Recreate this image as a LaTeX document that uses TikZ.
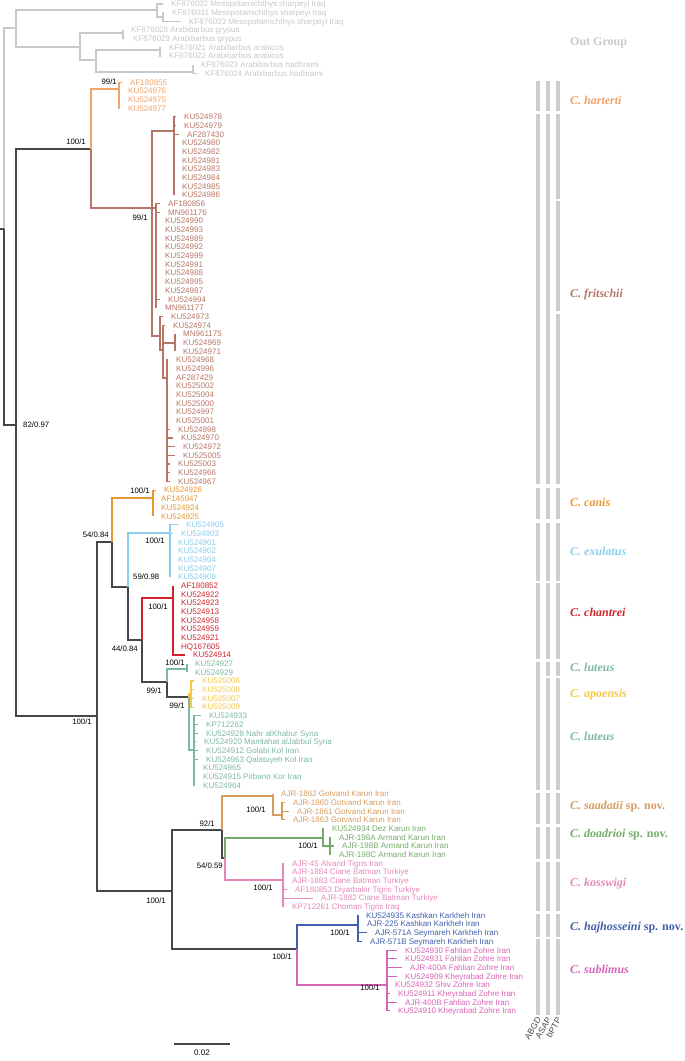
\documentclass[tikz,border=0pt]{standalone}
\usepackage{fontspec}
\setmainfont{Liberation Serif}
\setsansfont{Liberation Sans}
\usetikzlibrary{positioning}

\definecolor{dark}{RGB}{70,70,70}
\definecolor{ogc}{RGB}{200,200,200}
\definecolor{harc}{RGB}{240,162,105}
\definecolor{fric}{RGB}{182,118,102}
\definecolor{canc}{RGB}{232,150,50}
\definecolor{exuc}{RGB}{140,205,235}
\definecolor{chac}{RGB}{210,35,45}
\definecolor{lutc}{RGB}{125,185,160}
\definecolor{apoc}{RGB}{245,200,70}
\definecolor{saac}{RGB}{215,155,95}
\definecolor{doac}{RGB}{115,172,105}
\definecolor{kosc}{RGB}{230,135,185}
\definecolor{hajc}{RGB}{65,95,170}
\definecolor{subc}{RGB}{215,100,180}
\definecolor{bargray}{RGB}{205,205,205}

\tikzset{
  br/.style={line width=1.1pt},
  leaf/.style={anchor=west, inner xsep=8pt, inner ysep=0pt, text height=5.8pt, text depth=0pt,
    font=\sffamily\fontsize{8}{9}\selectfont},
  supp/.style={inner sep=0pt, text=black, font=\sffamily\fontsize{7.8}{9}\selectfont},
  spname/.style={anchor=west, inner sep=0pt, font=\fontsize{12}{14}\selectfont\bfseries},
  bar/.style={fill=bargray, draw=none},
  method/.style={anchor=east, rotate=60, inner sep=0pt, text=dark, font=\sffamily\fontsize{8.5}{9}\selectfont},
}

\begin{document}
\begin{tikzpicture}[x=1pt,y=-1pt]
\useasboundingbox (0,0) rectangle (685,1061);

% internal nodes
\coordinate (stub) at (0,229);
\coordinate (root) at (4,229);
\coordinate (og) at (16,28);
\coordinate (meso) at (157,10);
\coordinate (m2) at (163,17);
\coordinate (arab) at (80,47);
\coordinate (gry) at (123,33);
\coordinate (ah) at (96,60);
\coordinate (ara) at (160,50);
\coordinate (had) at (193,72);
\coordinate (ing) at (16,425);
\coordinate (hf) at (91,149);
\coordinate (har) at (119,89);
\coordinate (fri) at (152,208);
\coordinate (fa) at (174,131);
\coordinate (fA) at (156,208);
\coordinate (fB) at (160,336);
\coordinate (b1) at (163,350);
\coordinate (b2) at (175,343);
\coordinate (b3) at (167,378);
\coordinate (R) at (97,716);
\coordinate (cx) at (112,542);
\coordinate (can) at (153,498);
\coordinate (exr) at (128,587);
\coordinate (exu) at (170,533);
\coordinate (cl) at (142,640);
\coordinate (cha) at (173,598);
\coordinate (la) at (167,682);
\coordinate (lu1) at (187,669);
\coordinate (al) at (189,697);
\coordinate (apo) at (191,694);
\coordinate (lu2) at (194,750);
\coordinate (S) at (172,891);
\coordinate (sdk) at (222,830);
\coordinate (saa) at (273,796);
\coordinate (s2) at (282,815);
\coordinate (dk) at (225,858);
\coordinate (doa) at (323,838);
\coordinate (d2) at (330,846);
\coordinate (kos) at (283,880);
\coordinate (hs) at (297,949);
\coordinate (haj) at (358,925);
\coordinate (sub) at (387,985);

% leaves
\begin{scope}[ogc]
\foreach \i/\lx/\t in {0/171/KF876032 Mesopotamichthys sharpeyi Iraq, 1/172/KF876031 Mesopotamichthys sharpeyi Iraq,
  2/189/KF876033 Mesopotamichthys sharpeyi Iraq, 3/131/KF876028 Arabibarbus grypus, 4/133/KF876029 Arabibarbus grypus,
  5/169/KF876021 Arabibarbus arabicus, 6/169/KF876022 Arabibarbus arabicus,
  7/201/KF876023 Arabibarbus hadhrami, 8/205/KF876024 Arabibarbus hadhrami}
  \node[leaf] (L\i) at ({\lx-8},{4+8.68*\i}) {\t};
\end{scope}
\begin{scope}[harc]
\foreach \i/\lx/\t in {9/130/AF180855, 10/128/KU524976, 11/128/KU524975, 12/128/KU524977}
  \node[leaf] (L\i) at ({\lx-8},{4+8.68*\i}) {\t};
\end{scope}
\begin{scope}[fric]
\foreach \i/\lx/\t in {13/184/KU524978, 14/184/KU524979, 15/187/AF287430, 16/182/KU524980, 17/182/KU524982,
  18/182/KU524981, 19/182/KU524983, 20/182/KU524984, 21/182/KU524985, 22/182/KU524986,
  23/168/AF180856, 24/168/MN961176, 25/165/KU524990, 26/165/KU524993, 27/165/KU524989, 28/165/KU524992,
  29/165/KU524999, 30/165/KU524991, 31/165/KU524988, 32/165/KU524995, 33/165/KU524987, 34/168/KU524994,
  35/165/MN961177, 36/171/KU524973, 37/173/KU524974, 38/183/MN961175, 39/183/KU524969, 40/183/KU524971,
  41/176/KU524968, 42/176/KU524996, 43/176/AF287429, 44/176/KU525002, 45/176/KU525004, 46/176/KU525000,
  47/176/KU524997, 48/176/KU525001, 49/178/KU524998, 50/181/KU524970, 51/183/KU524972, 52/183/KU525005,
  53/178/KU525003, 54/178/KU524966, 55/178/KU524967}
  \node[leaf] (L\i) at ({\lx-8},{4+8.68*\i}) {\t};
\end{scope}
\begin{scope}[canc]
\foreach \i/\lx/\t in {56/164/KU524926, 57/161/AF145947, 58/161/KU524924, 59/161/KU524925}
  \node[leaf] (L\i) at ({\lx-8},{4+8.68*\i}) {\t};
\end{scope}
\begin{scope}[exuc]
\foreach \i/\lx/\t in {60/186/KU524905, 61/181/KU524903, 62/178/KU524901, 63/178/KU524902,
  64/178/KU524904, 65/178/KU524907, 66/178/KU524908}
  \node[leaf] (L\i) at ({\lx-8},{4+8.68*\i}) {\t};
\end{scope}
\begin{scope}[chac]
\foreach \i/\lx/\t in {67/181/AF180852, 68/181/KU524922, 69/181/KU524923, 70/181/KU524913, 71/181/KU524958,
  72/181/KU524959, 73/181/KU524921, 74/181/HQ167605, 75/193/KU524914}
  \node[leaf] (L\i) at ({\lx-8},{4+8.68*\i}) {\t};
\end{scope}
\begin{scope}[lutc]
\foreach \i/\lx/\t in {76/195/KU524927, 77/195/KU524929, 82/209/KU524933, 83/206/KP712262,
  84/206/KU524928 Nahr alKhabur Syria, 85/204/KU524920 Mamlahat alJabbul Syria, 86/206/KU524912 Golabi Kol Iran,
  87/206/KU524963 Qalatuyeh Kol Iran, 88/203/KU524965, 89/203/KU524915 Pirbano Kor Iran, 90/203/KU524964}
  \node[leaf] (L\i) at ({\lx-8},{4+8.68*\i}) {\t};
\end{scope}
\begin{scope}[apoc]
\foreach \i/\lx/\t in {78/202/KU525006, 79/202/KU525008, 80/202/KU525007, 81/202/KU525009}
  \node[leaf] (L\i) at ({\lx-8},{4+8.68*\i}) {\t};
\end{scope}
\begin{scope}[saac]
\foreach \i/\lx/\t in {91/281/AJR-1862 Gotvand Karun Iran, 92/293/AJR-1860 Gotvand Karun Iran,
  93/297/AJR-1861 Gotvand Karun Iran, 94/293/AJR-1863 Gotvand Karun Iran}
  \node[leaf] (L\i) at ({\lx-8},{4+8.68*\i}) {\t};
\end{scope}
\begin{scope}[doac]
\foreach \i/\lx/\t in {95/332/KU524934 Dez Karun Iran, 96/339/AJR-198A Armand Karun Iran,
  97/342/AJR-198B Armand Karun Iran, 98/339/AJR-198C Armand Karun Iran}
  \node[leaf] (L\i) at ({\lx-8},{4+8.68*\i}) {\t};
\end{scope}
\begin{scope}[kosc]
\foreach \i/\lx/\t in {99/292/AJR-45 Alvand Tigris Iran, 100/292/AJR-1884 Ciane Batman Turkiye,
  101/292/AJR-1883 Ciane Batman Turkiye, 102/295/AF180853 Diyarbakir Tigris Turkiye,
  103/321/AJR-1882 Ciane Batman Turkiye, 104/292/KP712261 Choman Tigris Iraq}
  \node[leaf] (L\i) at ({\lx-8},{4+8.68*\i}) {\t};
\end{scope}
\begin{scope}[hajc]
\foreach \i/\lx/\t in {105/366/KU524935 Kashkan Karkheh Iran, 106/367/AJR-225 Kashkan Karkheh Iran,
  107/375/AJR-571A Seymareh Karkheh Iran, 108/370/AJR-571B Seymareh Karkheh Iran}
  \node[leaf] (L\i) at ({\lx-8},{4+8.68*\i}) {\t};
\end{scope}
\begin{scope}[subc]
\foreach \i/\lx/\t in {109/405/KU524930 Fahlian Zohre Iran, 110/405/KU524931 Fahlian Zohre Iran,
  111/410/AJR-400A Fahlian Zohre Iran, 112/405/KU524909 Kheyrabad Zohre Iran, 113/395/KU524932 Shiv Zohre Iran,
  114/398/KU524911 Kheyrabad Zohre Iran, 115/405/AJR-400B Fahlian Zohre Iran, 116/398/KU524910 Kheyrabad Zohre Iran}
  \node[leaf] (L\i) at ({\lx-8},{4+8.68*\i}) {\t};
\end{scope}

% branches: out group
\draw[br,ogc] (root) |- (og);
\draw[br,ogc] (og) |- (meso);
\draw[br,ogc] (og) |- (arab);
\draw[br,ogc] (meso) |- (L0.west);
\draw[br,ogc] (meso) |- (m2);
\foreach \i in {1,2} \draw[br,ogc] (m2) |- (L\i.west);
\draw[br,ogc] (arab) |- (gry);
\draw[br,ogc] (arab) |- (ah);
\foreach \i in {3,4} \draw[br,ogc] (gry) |- (L\i.west);
\draw[br,ogc] (ah) |- (ara);
\draw[br,ogc] (ah) |- (had);
\foreach \i in {5,6} \draw[br,ogc] (ara) |- (L\i.west);
\foreach \i in {7,8} \draw[br,ogc] (had) |- (L\i.west);

% branches: ingroup backbone
\draw[br,dark] (stub) -- (root);
\draw[br,dark] (root) |- (ing);
\draw[br,dark] (ing) |- (hf);
\draw[br,dark] (ing) |- (R);
\draw[br,dark] (R) |- (cx);
\draw[br,dark] (R) |- (S);
\draw[br,dark] (cx) |- (exr);
\draw[br,dark] (exr) |- (cl);
\draw[br,dark] (cl) |- (la);
\draw[br,dark] (la) |- (al);
\draw[br,dark] (S) |- (sdk);
\draw[br,dark] (S) |- (hs);
\draw[br,dark] (sdk) |- (dk);

% harterti, fritschii
\draw[br,harc] (hf) |- (har);
\foreach \i in {9,...,12} \draw[br,harc] (har) |- (L\i.west);
\draw[br,fric] (hf) |- (fri);
\draw[br,fric] (fri) |- (fa);
\draw[br,fric] (fri) |- (fA);
\draw[br,fric] (fri) |- (fB);
\foreach \i in {13,...,22} \draw[br,fric] (fa) |- (L\i.west);
\foreach \i in {23,...,35} \draw[br,fric] (fA) |- (L\i.west);
\draw[br,fric] (fB) |- (L36.west);
\draw[br,fric] (fB) |- (b1);
\draw[br,fric] (b1) |- (L37.west);
\draw[br,fric] (b1) |- (b2);
\draw[br,fric] (b1) |- (b3);
\foreach \i in {38,39,40} \draw[br,fric] (b2) |- (L\i.west);
\foreach \i in {41,...,55} \draw[br,fric] (b3) |- (L\i.west);

% canis to luteus
\draw[br,canc] (cx) |- (can);
\foreach \i in {56,...,59} \draw[br,canc] (can) |- (L\i.west);
\draw[br,exuc] (exr) |- (exu);
\foreach \i in {60,...,66} \draw[br,exuc] (exu) |- (L\i.west);
\draw[br,chac] (cl) |- (cha);
\foreach \i in {67,...,75} \draw[br,chac] (cha) |- (L\i.west);
\draw[br,lutc] (la) |- (lu1);
\foreach \i in {76,77} \draw[br,lutc] (lu1) |- (L\i.west);
\draw[br,apoc] (al) |- (apo);
\foreach \i in {78,...,81} \draw[br,apoc] (apo) |- (L\i.west);
\draw[br,lutc] (al) |- (lu2);
\foreach \i in {82,...,90} \draw[br,lutc] (lu2) |- (L\i.west);

% saadatii to sublimus
\draw[br,saac] (sdk) |- (saa);
\draw[br,saac] (saa) |- (L91.west);
\draw[br,saac] (saa) |- (s2);
\foreach \i in {92,93,94} \draw[br,saac] (s2) |- (L\i.west);
\draw[br,doac] (dk) |- (doa);
\draw[br,doac] (doa) |- (L95.west);
\draw[br,doac] (doa) |- (d2);
\foreach \i in {96,97,98} \draw[br,doac] (d2) |- (L\i.west);
\draw[br,kosc] (dk) |- (kos);
\foreach \i in {99,...,104} \draw[br,kosc] (kos) |- (L\i.west);
\draw[br,hajc] (hs) |- (haj);
\foreach \i in {105,...,108} \draw[br,hajc] (haj) |- (L\i.west);
\draw[br,subc] (hs) |- (sub);
\foreach \i in {109,...,116} \draw[br,subc] (sub) |- (L\i.west);

% support values
\node[supp, right=7pt of ing] {82/0.97};
\node[supp, above left=4pt and 5pt of hf] {100/1};
\node[supp, above left=4pt and 2pt of har] {99/1};
\node[supp, below left=7pt and 4pt of fri] {99/1};
\node[supp, below left=3pt and 5pt of R] {100/1};
\node[supp, above left=4pt and 3pt of cx] {54/0.84};
\node[supp, above left=4pt and 3pt of can] {100/1};
\node[supp, above right=7pt and 5pt of exr] {59/0.98};
\node[supp, below left=5pt and 5pt of exu] {100/1};
\node[supp, below left=6pt and 4pt of cl] {44/0.84};
\node[supp, below left=6pt and 5pt of cha] {100/1};
\node[supp, below left=6pt and 5pt of la] {99/1};
\node[supp, above left=3pt and 2pt of lu1] {100/1};
\node[supp, below left=6pt and 4pt of al] {99/1};
\node[supp, below left=7pt and 6pt of S] {100/1};
\node[supp, above left=3pt and 7pt of sdk] {92/1};
\node[supp, below left=5pt and 2pt of dk] {54/0.59};
\node[supp, below left=11pt and 7pt of saa] {100/1};
\node[supp, below left=5pt and 5pt of doa] {100/1};
\node[supp, below left=5pt and 10pt of kos] {100/1};
\node[supp, below left=5pt and 5pt of hs] {100/1};
\node[supp, below left=5pt and 8pt of haj] {100/1};
\node[supp, below left=0pt and 7pt of sub] {100/1};

% species delimitation bars
\foreach \cx in {535.8,545.8,555.9}
  \foreach \a/\b in {81/111, 488/519, 523/581, 583/659, 793/824, 827/859, 862/911, 914/937, 939/1015}
    \fill[bar] (\cx,\a) rectangle ({\cx+4.4},\b);
\foreach \cx in {535.8,545.8}
  \fill[bar] (\cx,114) rectangle ({\cx+4.4},484);
\foreach \a/\b in {114/199, 201/311, 314/484}
  \fill[bar] (555.9,\a) rectangle ({555.9+4.4},\b);
\fill[bar] (535.8,662) rectangle ({535.8+4.4},790);
\foreach \cx in {545.8,555.9}
  \foreach \a/\b in {662/676, 678/790}
    \fill[bar] (\cx,\a) rectangle ({\cx+4.4},\b);
\node[method] (abgd) at (539,1018) {ABGD};
\node[method] (asap) at (549,1018) {ASAP};
\node[method] (bptp) at (559,1018) {bPTP};

% species names
\node[spname, ogc] (nOG) at (570,43) {Out Group};
\node[spname, harc] (nhar) at (570,100) {\itshape C. harterti};
\node[spname, fric] (nfri) at (570,295) {\itshape C. fritschii};
\node[spname, canc] (ncan) at (570,502) {\itshape C. canis};
\node[spname, exuc] (nexu) at (570,551) {\itshape C. exulatus};
\node[spname, chac] (ncha) at (570,612) {\itshape C. chantrei};
\node[spname, lutc] (nlu1) at (570,667) {\itshape C. luteus};
\node[spname, apoc] (napo) at (570,695) {\itshape C. apoensis};
\node[spname, lutc] (nlu2) at (570,736) {\itshape C. luteus};
\node[spname, saac] (nsaa) at (570,807) {\textit{C. saadatii} sp. nov.};
\node[spname, doac] (ndoa) at (570,835) {\textit{C. doadrioi} sp. nov.};
\node[spname, kosc] (nkos) at (570,884) {\itshape C. kosswigi};
\node[spname, hajc] (nhaj) at (570,928) {\textit{C. hajhosseini} sp. nov.};
\node[spname, subc] (nsub) at (570,969) {\itshape C. sublimus};

% scale bar
\coordinate (sb1) at (174,1044);
\coordinate (sb2) at (230,1044);
\draw[line width=1.3pt, dark] (sb1) -- node[below=5pt, inner sep=0pt, text=black, font=\sffamily\fontsize{8}{9}\selectfont] (sblab) {0.02} (sb2);
\end{tikzpicture}
\end{document}
